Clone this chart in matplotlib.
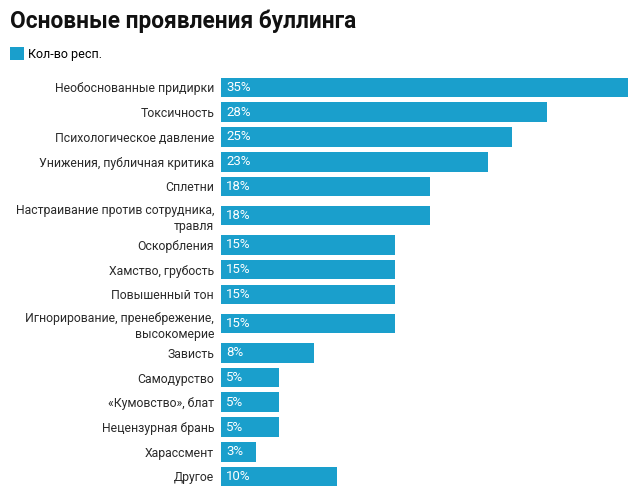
import matplotlib
matplotlib.use("Agg")
import matplotlib.pyplot as plt

plt.rcParams['font.family'] = ['Roboto', 'DejaVu Sans']

categories = [
    "Необоснованные придирки",
    "Токсичность",
    "Психологическое давление",
    "Унижения, публичная критика",
    "Сплетни",
    "Настраивание против сотрудника,\nтравля",
    "Оскорбления",
    "Хамство, грубость",
    "Повышенный тон",
    "Игнорирование, пренебрежение,\nвысокомерие",
    "Зависть",
    "Самодурство",
    "«Кумовство», блат",
    "Нецензурная брань",
    "Харассмент",
    "Другое",
]
values = [35, 28, 25, 23, 18, 18, 15, 15, 15, 15, 8, 5, 5, 5, 3, 10]
series_name = "Кол-во респ."

color = "#1a9fcc"

# rows with two-line labels get a bit more room
extra = 0.18
y = [0.0]
for i in range(1, len(categories)):
    n_prev = categories[i - 1].count("\n")
    n_cur = categories[i].count("\n")
    y.append(y[-1] + 1 + extra * n_prev + extra * n_cur)

fig = plt.figure(figsize=(6.4, 5.04), dpi=100)
# first bar center at 87px, last at 476px
span = y[-1]
px_per_unit = (476 - 87) / span
top_px = 87.5 - 0.5 * px_per_unit
bot_px = 476.5 + 0.5 * px_per_unit
ax = fig.add_axes([221 / 640, 1 - bot_px / 504, (628 - 221) / 640, (bot_px - top_px) / 504])

bars = ax.barh(y, values, height=0.79, color=color, label=series_name)
ax.set_ylim(span + 0.5, -0.5)
ax.set_xlim(0, 35)

for yi, v in zip(y, values):
    ax.text(0.45, yi, f"{v}%", color="white", va="center", ha="left", fontsize=9.5)

ax.set_yticks(y)
ax.set_yticklabels(categories, fontsize=8.85, color="#2a2a2a", linespacing=1.3)
ax.tick_params(axis='y', length=0, pad=5)
ax.set_xticks([])
for s in ax.spines.values():
    s.set_visible(False)

fig.text(10 / 640, 1 - 21 / 504, "Основные проявления буллинга", fontsize=16.3,
         fontweight="bold", va="center", ha="left", color="#111111")

fig.legend(handles=[bars], labels=[series_name], loc="upper left",
           bbox_to_anchor=(10 / 640, 1 - 47.5 / 504), frameon=False, fontsize=9,
           handlelength=1.12, handleheight=1.12, handletextpad=0.32,
           borderpad=0, borderaxespad=0)

fig.savefig("out.png", dpi=100)
